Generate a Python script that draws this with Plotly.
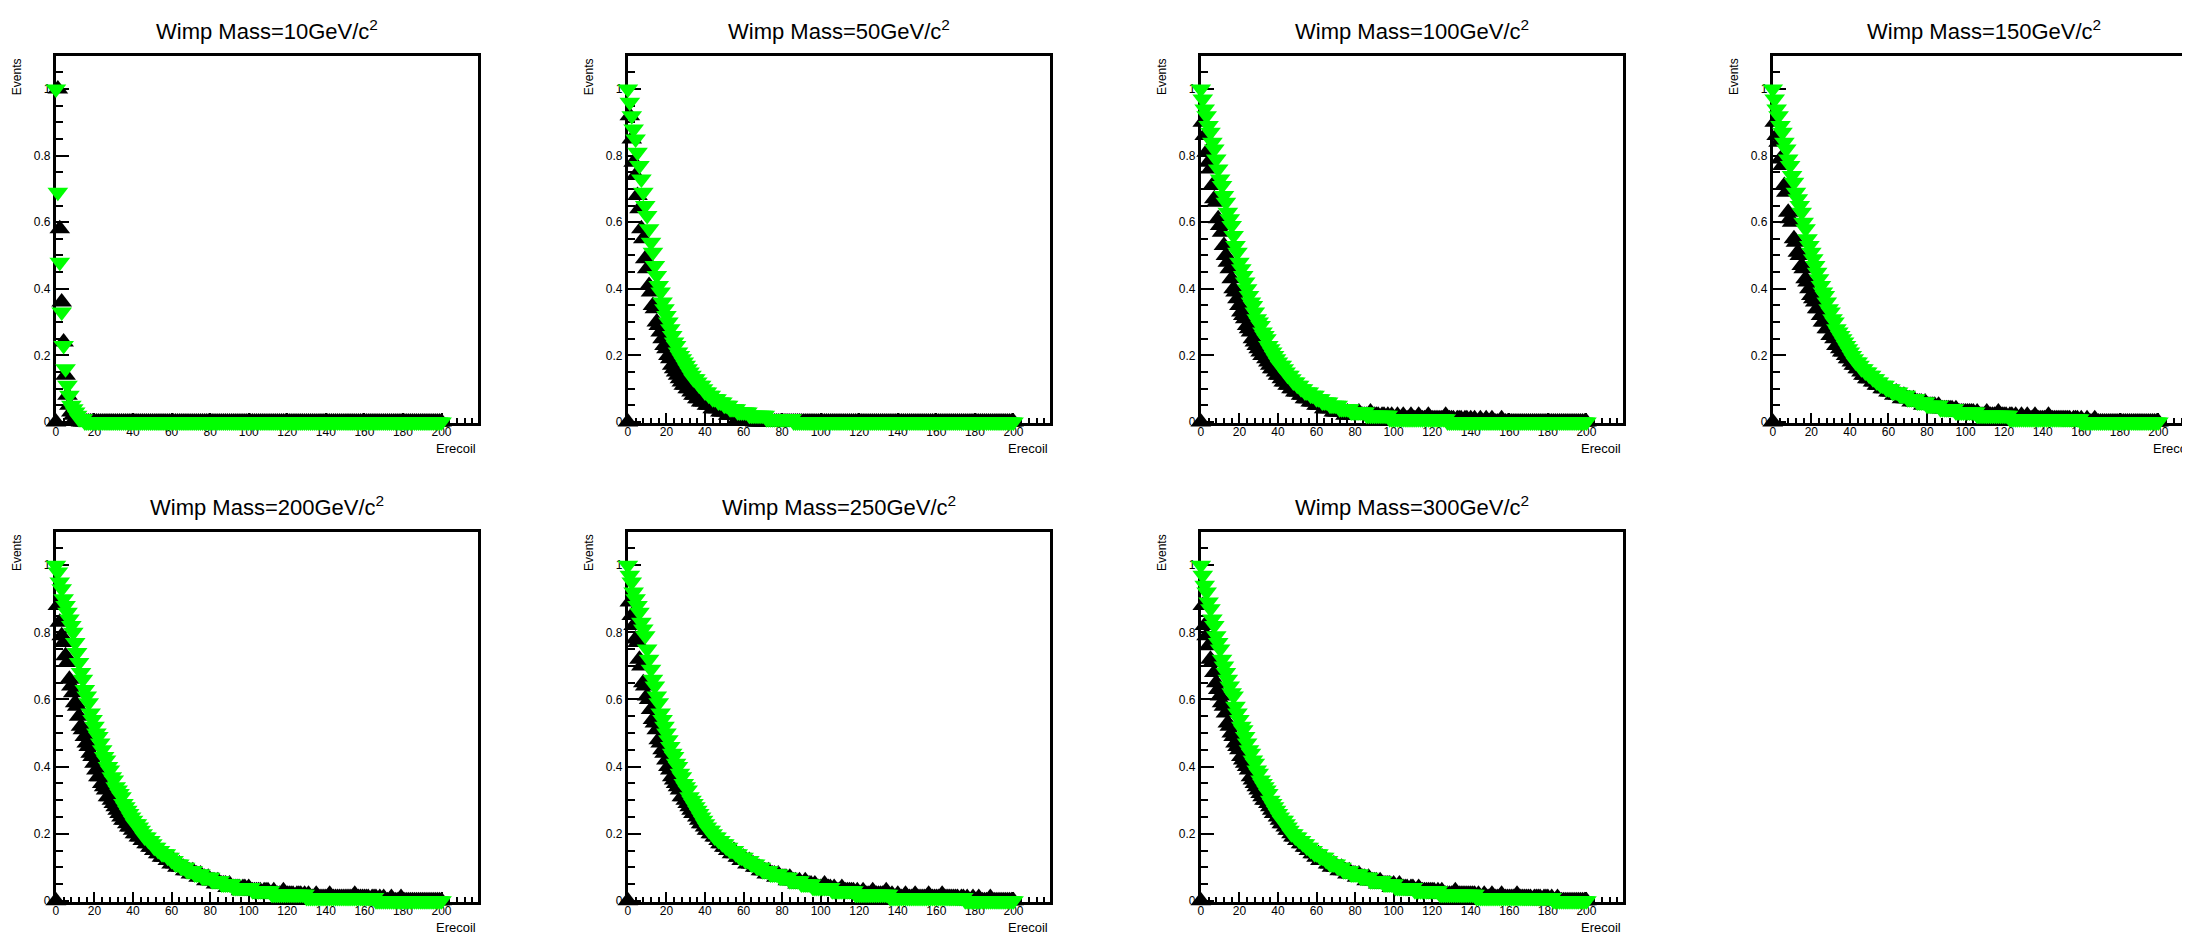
import plotly.graph_objects as go

# ---------------- data (Erecoil bins 0..200, normalised events) ----------------
masses = [10, 50, 100, 150, 200, 250, 300]
erecoil_max = 200

green_10 = [
    1.0,.69,.48,.33,.23,.16,.11,.08,.05,.04,
    .03,.02,.01,.01,.01,0,0,0,0,0,
    0,0,0,0,0,0,0,0,0,0, 0,0,0,0,0,0,0,0,0,0,
    0,0,0,0,0,0,0,0,0,0, 0,0,0,0,0,0,0,0,0,0,
    0,0,0,0,0,0,0,0,0,0, 0,0,0,0,0,0,0,0,0,0,
    0,0,0,0,0,0,0,0,0,0, 0,0,0,0,0,0,0,0,0,0,
    0,0,0,0,0,0,0,0,0,0, 0,0,0,0,0,0,0,0,0,0,
    0,0,0,0,0,0,0,0,0,0, 0,0,0,0,0,0,0,0,0,0,
    0,0,0,0,0,0,0,0,0,0, 0,0,0,0,0,0,0,0,0,0,
    0,0,0,0,0,0,0,0,0,0, 0,0,0,0,0,0,0,0,0,0,
    0,0,0,0,0,0,0,0,0,0, 0,0,0,0,0,0,0,0,0,0,
    0]
black_10 = [
    0,1.0,.58,.36,.24,.14,.08,.05,.03,.02,
    .01,.01,.01,0,0,0,0,0,0,0,
    0,0,0,0,0,0,0,0,0,0, 0,0,0,0,0,0,0,0,0,0,
    0,0,0,0,0,0,0,0,0,0, 0,0,0,0,0,0,0,0,0,0,
    0,0,0,0,0,0,0,0,0,0, 0,0,0,0,0,0,0,0,0,0,
    0,0,0,0,0,0,0,0,0,0, 0,0,0,0,0,0,0,0,0,0,
    0,0,0,0,0,0,0,0,0,0, 0,0,0,0,0,0,0,0,0,0,
    0,0,0,0,0,0,0,0,0,0, 0,0,0,0,0,0,0,0,0,0,
    0,0,0,0,0,0,0,0,0,0, 0,0,0,0,0,0,0,0,0,0,
    0,0,0,0,0,0,0,0,0,0, 0,0,0,0,0,0,0,0,0,0,
    0,0,0,0,0,0,0,0,0,0, 0,0,0,0,0,0,0,0,0,0,
    0]

green_50 = [
    1.0,.96,.92,.88,.85,.81,.77,.73,.69,.65,
    .62,.58,.54,.51,.47,.44,.41,.39,.36,.34,
    .32,.30,.28,.26,.24,.23,.21,.20,.19,.18,
    .17,.16,.15,.14,.13,.13,.12,.11,.11,.10,
    .09,.09,.08,.08,.07,.07,.07,.06,.06,.06,
    .05,.05,.05,.04,.04,.04,.04,.03,.03,.03,
    .03,.03,.03,.02,.02,.02,.02,.02,.02,.02,
    .02,.02,.01,.01,.01,.01,.01,.01,.01,.01,
    .01,.01,.01,.01,.01,.01,0,0,0,0,
    0,0,0,0,0,0,0,0,0,0, 0,0,0,0,0,0,0,0,0,0,
    0,0,0,0,0,0,0,0,0,0, 0,0,0,0,0,0,0,0,0,0,
    0,0,0,0,0,0,0,0,0,0, 0,0,0,0,0,0,0,0,0,0,
    0,0,0,0,0,0,0,0,0,0, 0,0,0,0,0,0,0,0,0,0,
    0,0,0,0,0,0,0,0,0,0, 0,0,0,0,0,0,0,0,0,0,
    0,0,0,0,0,0,0,0,0,0,
    0]
black_50 = [
    0,.92,.85,.78,.74,.68,.64,.58,.55,.49,
    .46,.41,.39,.35,.34,.30,.29,.27,.25,.23,
    .22,.20,.19,.17,.16,.15,.14,.13,.12,.11,
    .11,.10,.10,.09,.08,.08,.07,.07,.06,.06,
    .06,.05,.05,.05,.04,.04,.04,.04,.03,.03,
    .03,.03,.02,.02,.02,.02,.02,.01,.01,.01,
    .01,.01,.01,.01,.01,.01,0,0,0,0,
    0,0,0,0,0,0,0,0,0,0, 0,0,0,0,0,0,0,0,0,0,
    0,0,0,0,0,0,0,0,0,0, 0,0,0,0,0,0,0,0,0,0,
    0,0,0,0,0,0,0,0,0,0, 0,0,0,0,0,0,0,0,0,0,
    0,0,0,0,0,0,0,0,0,0, 0,0,0,0,0,0,0,0,0,0,
    0,0,0,0,0,0,0,0,0,0, 0,0,0,0,0,0,0,0,0,0,
    0,0,0,0,0,0,0,0,0,0, 0,0,0,0,0,0,0,0,0,0,
    0,0,0,0,0,0,0,0,0,0,
    0]

green_100 = [
    1.0,.97,.94,.92,.89,.87,.84,.82,.79,.76,
    .73,.71,.68,.66,.63,.61,.59,.56,.53,.51,
    .48,.46,.44,.42,.40,.38,.36,.35,.33,.31,
    .30,.29,.27,.26,.25,.23,.22,.21,.20,.19,
    .18,.17,.17,.16,.15,.14,.14,.13,.12,.12,
    .11,.11,.10,.10,.09,.09,.09,.08,.08,.08,
    .07,.07,.07,.06,.06,.06,.06,.05,.05,.05,
    .05,.05,.04,.04,.04,.04,.04,.04,.03,.03,
    .03,.03,.03,.03,.03,.03,.02,.02,.02,.02,
    .02,.02,.02,.02,.02,.02,.02,.02,.01,.01,
    .01,.01,.01,.01,.01,.01,.01,.01,.01,.01,
    .01,.01,.01,.01,.01,.01,.01,.01,.01,.01,
    .01,.01,.01,.01,.01,.01,.01,.01,0,0,
    0,0,0,0,0,0,0,0,0,0, 0,0,0,0,0,0,0,0,0,0,
    0,0,0,0,0,0,0,0,0,0, 0,0,0,0,0,0,0,0,0,0,
    0,0,0,0,0,0,0,0,0,0, 0,0,0,0,0,0,0,0,0,0,
    0,0,0,0,0,0,0,0,0,0,
    0]
black_100 = [
    0,.90,.86,.81,.78,.76,.71,.67,.66,.61,
    .59,.57,.53,.50,.48,.46,.43,.40,.39,.37,
    .35,.33,.32,.31,.29,.28,.27,.25,.24,.23,
    .22,.21,.20,.20,.19,.18,.17,.16,.16,.15,
    .14,.14,.13,.12,.12,.11,.11,.10,.10,.09,
    .09,.09,.08,.08,.07,.07,.07,.06,.06,.06,
    .05,.05,.05,.05,.04,.04,.04,.04,.04,.03,
    .03,.03,.03,.03,.03,.02,.03,.02,.02,.02,
    .02,.02,.03,.02,.02,.02,.02,.02,.03,.02,
    .02,.02,.02,.01,.02,.02,.01,.02,.01,.02,
    .01,.01,.02,.01,.01,.02,.01,.01,.01,.02,
    .01,.01,.01,.02,.01,.01,.01,.01,.02,.01,
    .01,.01,.01,.01,.01,.01,.01,.02,.01,.01,
    .01,.01,0,.01,.01,.01,0,.01,.01,0,
    .01,0,.01,0,0,.01,0,0,.01,0,
    0,.01,0,0,0,0,.01,0,0,0,
    0,0,0,0,0,0,0,0,0,0, 0,0,0,0,0,0,0,0,0,0,
    0,0,0,0,0,0,0,0,0,0, 0,0,0,0,0,0,0,0,0,0,
    0]

green_150 = [
    1.0,.97,.94,.92,.89,.87,.84,.82,.79,.77,
    .74,.72,.69,.67,.65,.63,.60,.58,.55,.53,
    .51,.49,.47,.45,.43,.41,.39,.38,.36,.34,
    .33,.31,.30,.28,.27,.26,.25,.24,.23,.22,
    .21,.20,.19,.18,.18,.17,.16,.16,.15,.15,
    .14,.14,.13,.13,.12,.12,.11,.11,.11,.10,
    .10,.10,.09,.09,.09,.09,.08,.08,.08,.08,
    .07,.07,.07,.07,.07,.06,.06,.06,.06,.06,
    .05,.05,.05,.05,.05,.05,.05,.04,.04,.04,
    .04,.04,.04,.04,.04,.03,.03,.03,.03,.03,
    .03,.03,.03,.03,.03,.03,.02,.02,.02,.02,
    .02,.02,.02,.02,.02,.02,.02,.02,.02,.02,
    .02,.02,.02,.01,.01,.01,.01,.01,.01,.01,
    .01,.01,.01,.01,.01,.01,.01,.01,.01,.01,
    .01,.01,.01,.01,.01,.01,.01,.01,.01,.01,
    .01,.01,.01,.01,.01,.01,.01,.01,.01,.01,
    0,0,0,0,0,0,0,0,0,0, 0,0,0,0,0,0,0,0,0,0,
    0,0,0,0,0,0,0,0,0,0, 0,0,0,0,0,0,0,0,0,0,
    0]
black_150 = [
    0,.90,.86,.84,.79,.77,.71,.69,.63,.61,
    .60,.55,.54,.51,.50,.47,.46,.43,.42,.40,
    .38,.37,.36,.34,.34,.32,.30,.30,.28,.28,
    .26,.26,.25,.23,.23,.22,.21,.21,.20,.19,
    .19,.18,.17,.17,.16,.16,.15,.14,.14,.13,
    .13,.13,.12,.12,.11,.11,.11,.10,.10,.10,
    .09,.09,.09,.08,.09,.08,.08,.07,.08,.07,
    .07,.07,.06,.07,.06,.06,.06,.06,.05,.06,
    .05,.05,.05,.05,.05,.04,.05,.04,.04,.04,
    .04,.04,.04,.04,.03,.04,.03,.03,.03,.03,
    .03,.03,.03,.03,.03,.02,.03,.02,.02,.02,
    .02,.03,.02,.02,.02,.02,.02,.03,.02,.02,
    .02,.02,.01,.02,.02,.01,.02,.01,.01,.02,
    .01,.01,.02,.01,.01,.01,.02,.01,.01,.01,
    .01,.01,.01,.02,.01,.01,.01,.01,.01,.01,
    .01,.01,.01,.01,.01,0,.01,.01,.01,0,
    .01,0,0,.01,0,0,0,.01,0,0,
    0,0,0,0,0,0,0,0,0,0, 0,0,0,0,0,0,0,0,0,0,
    0,0,0,0,0,0,0,0,0,0,
    0]

green_200 = [
    1.0,.98,.95,.93,.90,.88,.86,.84,.82,.80,
    .77,.74,.71,.68,.66,.63,.61,.59,.56,.54,
    .52,.50,.49,.47,.45,.43,.42,.40,.39,.37,
    .36,.34,.33,.32,.31,.29,.28,.27,.26,.25,
    .24,.23,.23,.22,.21,.20,.19,.19,.18,.18,
    .17,.16,.16,.15,.15,.14,.14,.14,.13,.13,
    .12,.12,.11,.11,.11,.10,.10,.10,.09,.09,
    .09,.09,.08,.08,.08,.08,.07,.07,.07,.07,
    .07,.06,.06,.06,.06,.06,.05,.05,.05,.05,
    .05,.05,.04,.04,.04,.04,.04,.04,.04,.04,
    .04,.04,.03,.03,.03,.03,.03,.03,.03,.03,
    .03,.03,.02,.02,.02,.02,.02,.02,.02,.02,
    .02,.02,.02,.02,.02,.02,.02,.02,.02,.02,
    .01,.01,.01,.01,.01,.01,.01,.01,.01,.01,
    .01,.01,.01,.01,.01,.01,.01,.01,.01,.01,
    .01,.01,.01,.01,.01,.01,.01,.01,.01,.01,
    .01,.01,.01,.01,.01,.01,0,0,0,0,
    0,0,0,0,0,0,0,0,0,0, 0,0,0,0,0,0,0,0,0,0,
    0,0,0,0,0,0,0,0,0,0,
    0]
black_200 = [
    0,.88,.83,.79,.77,.73,.71,.66,.64,.62,
    .59,.58,.55,.52,.51,.49,.47,.46,.44,.43,
    .41,.39,.37,.37,.35,.34,.33,.31,.31,.30,
    .29,.28,.27,.26,.25,.24,.24,.23,.22,.22,
    .21,.20,.20,.19,.19,.18,.18,.17,.17,.16,
    .16,.15,.15,.14,.14,.13,.13,.13,.12,.12,
    .11,.12,.11,.10,.11,.10,.10,.09,.09,.09,
    .08,.09,.08,.08,.07,.08,.07,.07,.06,.07,
    .06,.06,.06,.05,.06,.05,.05,.05,.05,.04,
    .05,.04,.04,.04,.04,.04,.03,.04,.04,.03,
    .04,.03,.03,.03,.03,.03,.03,.02,.03,.03,
    .03,.02,.02,.03,.02,.02,.02,.02,.03,.02,
    .02,.02,.02,.02,.01,.02,.02,.02,.01,.02,
    .01,.02,.01,.01,.01,.02,.01,.01,.01,.01,
    .01,.01,.02,.01,.01,.01,.01,.01,.01,.01,
    .01,.01,.01,.01,.01,.02,.01,.01,.01,.01,
    .01,.01,.01,0,.01,.01,.01,0,.01,0,
    .01,0,0,0,.01,0,0,0,0,.01,
    0,0,0,0,0,0,0,0,0,0, 0,0,0,0,0,0,0,0,0,0,
    0]

green_250 = [
    1.0,.97,.95,.92,.90,.88,.86,.83,.81,.79,
    .75,.72,.69,.66,.64,.61,.59,.56,.54,.52,
    .50,.48,.46,.44,.43,.41,.40,.38,.37,.35,
    .34,.33,.31,.30,.29,.28,.27,.26,.25,.24,
    .23,.22,.21,.21,.20,.19,.19,.18,.18,.17,
    .17,.16,.16,.15,.15,.15,.14,.14,.13,.13,
    .13,.12,.12,.12,.11,.11,.11,.10,.10,.10,
    .09,.09,.09,.09,.08,.08,.08,.08,.08,.07,
    .07,.07,.07,.07,.06,.06,.06,.06,.06,.06,
    .05,.05,.05,.05,.05,.05,.04,.04,.04,.04,
    .04,.04,.04,.04,.04,.04,.03,.03,.03,.03,
    .03,.03,.03,.03,.03,.03,.03,.03,.02,.02,
    .02,.02,.02,.02,.02,.02,.02,.02,.02,.02,
    .02,.02,.02,.02,.02,.02,.01,.01,.01,.01,
    .01,.01,.01,.01,.01,.01,.01,.01,.01,.01,
    .01,.01,.01,.01,.01,.01,.01,.01,.01,.01,
    .01,.01,.01,.01,.01,.01,.01,.01,.01,.01,
    .01,.01,.01,.01,.01,0,0,0,0,0,
    0,0,0,0,0,0,0,0,0,0, 0,0,0,0,0,0,0,0,0,0,
    0]
black_250 = [
    0,.89,.85,.82,.78,.77,.72,.70,.65,.64,
    .61,.60,.57,.54,.53,.51,.48,.47,.45,.44,
    .42,.40,.39,.37,.36,.35,.34,.33,.31,.31,
    .30,.29,.28,.27,.26,.26,.25,.24,.23,.23,
    .22,.21,.21,.20,.20,.19,.19,.18,.17,.17,
    .16,.16,.15,.15,.14,.15,.14,.13,.13,.12,
    .13,.12,.11,.12,.11,.11,.10,.10,.10,.09,
    .09,.09,.08,.09,.08,.08,.08,.07,.08,.07,
    .07,.07,.07,.06,.07,.06,.06,.06,.05,.06,
    .05,.05,.06,.05,.05,.05,.04,.05,.04,.04,
    .04,.04,.05,.04,.04,.04,.03,.04,.03,.03,
    .03,.04,.03,.03,.03,.03,.03,.03,.02,.03,
    .02,.02,.03,.02,.02,.02,.02,.03,.02,.02,
    .02,.02,.02,.02,.03,.02,.01,.02,.01,.01,
    .02,.01,.01,.01,.02,.01,.01,.01,.01,.02,
    .01,.01,.01,.01,.01,.01,.02,.01,.01,.01,
    .01,.01,.01,.02,.01,.01,.01,.01,.01,.01,
    .01,.01,0,.01,.01,0,.01,0,0,.01,
    0,0,.01,0,0,0,0,0,.01,0,
    0,0,0,0,0,0,0,0,0,0,
    0]

green_300 = [
    1.0,.97,.94,.92,.89,.87,.84,.82,.79,.77,
    .75,.72,.70,.68,.66,.64,.62,.61,.58,.56,
    .54,.52,.51,.49,.47,.45,.44,.42,.41,.39,
    .38,.36,.35,.34,.33,.32,.30,.29,.28,.27,
    .26,.25,.24,.24,.23,.22,.21,.20,.20,.19,
    .19,.18,.18,.17,.17,.16,.16,.15,.15,.14,
    .14,.14,.13,.13,.13,.12,.12,.11,.11,.11,
    .11,.10,.10,.10,.09,.09,.09,.09,.08,.08,
    .08,.08,.08,.07,.07,.07,.07,.07,.06,.06,
    .06,.06,.06,.06,.06,.05,.05,.05,.05,.05,
    .05,.04,.04,.04,.04,.04,.04,.04,.04,.04,
    .04,.03,.03,.03,.03,.03,.03,.03,.03,.03,
    .03,.03,.03,.03,.02,.02,.02,.02,.02,.02,
    .02,.02,.02,.02,.02,.02,.02,.02,.02,.02,
    .02,.02,.02,.01,.01,.01,.01,.01,.01,.01,
    .01,.01,.01,.01,.01,.01,.01,.01,.01,.01,
    .01,.01,.01,.01,.01,.01,.01,.01,.01,.01,
    .01,.01,.01,.01,.01,.01,.01,.01,.01,.01,
    .01,.01,.01,0,0,0,0,0,0,0,
    0,0,0,0,0,0,0,0,0,0,
    0]
black_300 = [
    0,.88,.82,.79,.76,.72,.71,.68,.65,.63,
    .61,.59,.58,.56,.53,.52,.50,.49,.47,.46,
    .45,.43,.42,.41,.40,.39,.37,.36,.35,.34,
    .33,.32,.31,.30,.30,.29,.28,.27,.26,.26,
    .25,.24,.23,.23,.22,.21,.21,.20,.19,.19,
    .18,.18,.17,.17,.16,.16,.15,.15,.14,.14,
    .13,.14,.12,.13,.12,.12,.11,.11,.10,.11,
    .10,.10,.09,.10,.09,.09,.08,.09,.08,.08,
    .08,.07,.08,.07,.07,.07,.06,.07,.06,.06,
    .06,.06,.05,.06,.05,.05,.05,.05,.05,.04,
    .05,.04,.04,.05,.04,.04,.04,.04,.03,.04,
    .04,.03,.03,.04,.03,.03,.03,.03,.03,.03,
    .03,.03,.02,.03,.02,.03,.02,.02,.02,.02,
    .02,.02,.03,.02,.02,.02,.02,.02,.02,.02,
    .02,.02,.02,.01,.02,.01,.01,.02,.01,.01,
    .01,.02,.01,.01,.01,.01,.02,.01,.01,.01,
    .01,.01,.01,.01,.02,.01,.01,.01,.01,.01,
    .01,.01,0,.01,.01,.01,.01,0,.01,.01,
    .01,0,.01,0,0,.01,0,0,0,0,
    0,0,0,0,0,0,0,0,0,0,
    0]

green_series = [green_10, green_50, green_100, green_150, green_200, green_250, green_300]
black_series = [black_10, black_50, black_100, black_150, black_200, black_250, black_300]

_lens = [len(s) for s in green_series + black_series]
assert all(n == erecoil_max + 1 for n in _lens), _lens

x_ticks = [0, 20, 40, 60, 80, 100, 120, 140, 160, 180, 200]
y_ticks = [0, 0.2, 0.4, 0.6, 0.8, 1.0]

# ---------------- layout ----------------
W, H = 2190, 932
FONT = "Liberation Sans Narrow, Arial Narrow, Liberation Sans, Arial, sans-serif"
col_left = [45, 618, 1192, 1765]
frame_w = 423
row_top = [48, 527]
frame_h = [370, 373]
MARKER = 18

fig = go.Figure()
layout = dict(
    width=W, height=H,
    margin=dict(l=0, r=0, t=0, b=0),
    paper_bgcolor="white", plot_bgcolor="white",
    showlegend=False,
    font=dict(family=FONT, color="black"),
)
annotations = []

for i, m in enumerate(masses):
    r, c = divmod(i, 4)
    n = i + 1
    xname = "x" if n == 1 else f"x{n}"
    yname = "y" if n == 1 else f"y{n}"
    xs = list(range(len(black_series[i])))
    fig.add_trace(go.Scatter(
        x=xs, y=black_series[i], mode="markers", xaxis=xname, yaxis=yname,
        marker=dict(symbol="triangle-up", size=MARKER, color="black", line=dict(width=0)),
        cliponaxis=False, hoverinfo="skip"))
    xs = list(range(len(green_series[i])))
    fig.add_trace(go.Scatter(
        x=xs, y=green_series[i], mode="markers", xaxis=xname, yaxis=yname,
        marker=dict(symbol="triangle-down", size=MARKER, color="#00ff00", line=dict(width=0)),
        cliponaxis=False, hoverinfo="skip"))

    left = col_left[c]
    right = left + frame_w
    top = row_top[r]
    bottom = top + frame_h[r]
    xd = [left / W, right / W]
    yd = [1 - bottom / H, 1 - top / H]

    layout["xaxis" if n == 1 else f"xaxis{n}"] = dict(
        domain=xd, anchor=yname, range=[0, 219],
        tickmode="array", tickvals=x_ticks,
        ticks="inside", ticklen=10, tickwidth=2, tickcolor="black",
        minor=dict(dtick=4, tick0=0, ticks="inside", ticklen=5, tickwidth=2, tickcolor="black"),
        showline=True, linewidth=3, linecolor="black", mirror=True,
        showgrid=False, zeroline=False, layer="below traces",
        ticklabelstandoff=-5,
        tickfont=dict(size=12, family=FONT, color="black"),
    )
    layout["yaxis" if n == 1 else f"yaxis{n}"] = dict(
        domain=yd, anchor=xname, range=[-0.004, 1.1],
        tickmode="array", tickvals=y_ticks,
        ticks="inside", ticklen=13, tickwidth=2, tickcolor="black",
        minor=dict(dtick=0.05, tick0=0, ticks="inside", ticklen=7, tickwidth=2, tickcolor="black"),
        showline=True, linewidth=3, linecolor="black", mirror=True,
        showgrid=False, zeroline=False, layer="below traces",
        tickfont=dict(size=12, family=FONT, color="black"),
    )

    annotations.append(dict(
        text=f"Wimp Mass={m}GeV/c<sup>2</sup>", xref="paper", yref="paper",
        x=(left + right) / 2 / W, y=1 - (top - 26) / H,
        xanchor="center", yanchor="middle", showarrow=False,
        font=dict(size=22, family=FONT, color="black")))
    annotations.append(dict(
        text="Events", xref="paper", yref="paper", textangle=-90,
        x=(left - 39) / W, y=1 - top / H,
        xanchor="center", yanchor="top", showarrow=False,
        font=dict(size=12, family=FONT, color="black")))
    annotations.append(dict(
        text="Erecoil", xref="paper", yref="paper",
        x=right / W, y=1 - (bottom + 25) / H,
        xanchor="right", yanchor="middle", showarrow=False,
        font=dict(size=13, family=FONT, color="black")))

layout["annotations"] = annotations
fig.update_layout(**layout)
fig.write_html("out.html")
